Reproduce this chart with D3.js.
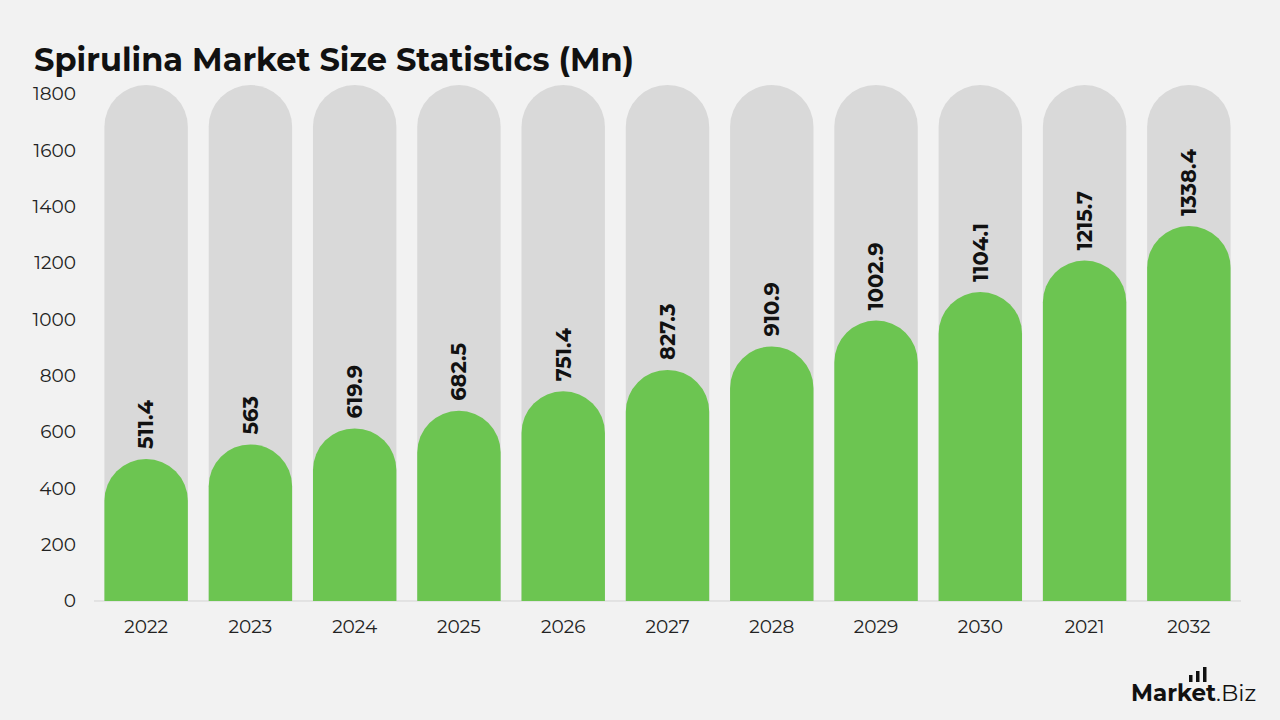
<!DOCTYPE html>
<html>
<head>
<meta charset="utf-8">
<script src="https://d3js.org/d3.v7.min.js"></script>
<style>
  body { margin: 0; background: #f2f2f2; }
  svg { display: block; font-family: "Montserrat", "Lato", "Open Sans", sans-serif; }
</style>
</head>
<body>
<div id="chart"></div>
<script>
// data
const years = ["2022", "2023", "2024", "2025", "2026", "2027", "2028", "2029", "2030", "2021", "2032"];
const values = [511.4, 563, 619.9, 682.5, 751.4, 827.3, 910.9, 1002.9, 1104.1, 1215.7, 1338.4];
const yTicks = [0, 200, 400, 600, 800, 1000, 1200, 1400, 1600, 1800];
const trackMax = 1832; // grey track height

const data = years.map((y, i) => ({year: y, value: values[i]}));

const width = 1280, height = 720;
const margin = {top: 94, right: 39, bottom: 119, left: 94};

const svg = d3.select("#chart").append("svg")
    .attr("width", width)
    .attr("height", height);

svg.append("rect").attr("width", width).attr("height", height).attr("fill", "#f2f2f2");

const x = d3.scaleBand()
    .domain(years)
    .range([margin.left, width - margin.right])
    .paddingInner(0.2)
    .paddingOuter(0.1);

const y = d3.scaleLinear()
    .domain([0, 1800])
    .range([height - margin.bottom, margin.top]);

const bw = x.bandwidth();
const r = bw / 2;

// bar with rounded top (half circle)
function roundedTop(x0, yTop, yBase) {
  const p = d3.path();
  p.moveTo(x0, yBase);
  p.lineTo(x0, yTop + r);
  p.arc(x0 + r, yTop + r, r, Math.PI, 0);
  p.lineTo(x0 + bw, yBase);
  p.closePath();
  return p.toString();
}

// title
svg.append("text")
    .attr("x", 34).attr("y", 71)
    .attr("font-size", 32).attr("font-weight", 700)
    .attr("fill", "#111")
    .text("Spirulina Market Size Statistics (Mn)");

// y axis labels
svg.append("g")
    .selectAll("text")
    .data(yTicks)
    .join("text")
      .attr("x", 76)
      .attr("y", d => y(d))
      .attr("dy", "0.35em")
      .attr("text-anchor", "end")
      .attr("font-size", 18.5)
      .attr("fill", "#222")
      .text(d => d);

// grey tracks
svg.append("g")
    .selectAll("path")
    .data(data)
    .join("path")
      .attr("fill", "#d9d9d9")
      .attr("d", d => roundedTop(x(d.year), y(trackMax), y(0)));

// baseline
svg.append("line")
    .attr("x1", margin.left).attr("x2", width - margin.right)
    .attr("y1", y(0)).attr("y2", y(0))
    .attr("stroke", "#d3d3d3").attr("stroke-width", 1);

// green bars
svg.append("g")
    .selectAll("path")
    .data(data)
    .join("path")
      .attr("fill", "#6cc551")
      .attr("d", d => roundedTop(x(d.year), y(d.value) + 2, y(0)));

// value labels, rotated
svg.append("g")
    .selectAll("text")
    .data(data)
    .join("text")
      .attr("transform", d => `translate(${x(d.year) + r},${y(d.value) - 8}) rotate(-90)`)
      .attr("dy", "0.35em")
      .attr("font-size", 21)
      .attr("font-weight", 700)
      .attr("fill", "#111")
      .text(d => d.value);

// x axis labels
svg.append("g")
    .selectAll("text")
    .data(years)
    .join("text")
      .attr("x", d => x(d) + r)
      .attr("y", 633)
      .attr("text-anchor", "middle")
      .attr("font-size", 18.5)
      .attr("fill", "#222")
      .text(d => d);

// logo
const logo = svg.append("g").attr("transform", "translate(1131,701)");
const lt = logo.append("text").attr("font-size", 23).attr("fill", "#111");
lt.append("tspan").attr("font-weight", 700).text("Market");
lt.append("tspan").attr("font-weight", 400).text(".Biz");
[7, 11, 15].forEach((h, i) => {
  logo.append("rect")
      .attr("x", 58 + i * 7).attr("y", -19 - h)
      .attr("width", 3.5).attr("height", h)
      .attr("fill", "#111");
});
</script>
</body>
</html>
